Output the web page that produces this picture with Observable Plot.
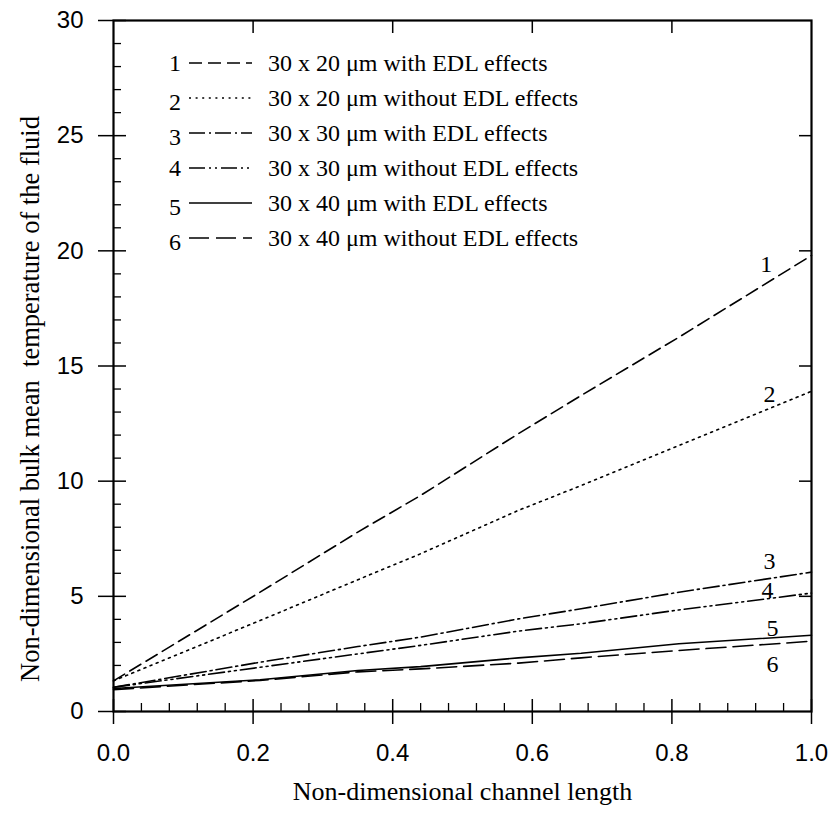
<!DOCTYPE html>
<html><head><meta charset="utf-8">
<script src="https://cdn.jsdelivr.net/npm/d3@7"></script>
<script src="https://cdn.jsdelivr.net/npm/@observablehq/plot@0.6"></script>
<style>
html,body{margin:0;padding:0;background:#fff;}
#wrap{position:relative;width:833px;height:816px;}
#wrap svg{display:block;}
#legend{position:absolute;left:0;top:0;}
</style></head><body>
<div id="wrap"></div>
<script>
// ---- data ----
const xPos    = [0, 0.21, 0.35, 0.44, 0.58, 0.67, 0.81, 1.0];
const series1 = [1.33, 5.18, 7.79, 9.38, 12.06, 13.72, 16.25, 19.8];
const series2 = [1.33, 3.95, 5.72, 6.85, 8.73, 9.81, 11.55, 13.9];
const series3 = [1.05, 2.14, 2.82, 3.23, 4.02, 4.46, 5.18, 6.05];
const series4 = [1.05, 1.92, 2.50, 2.87, 3.49, 3.81, 4.41, 5.14];
const series5 = [1.00, 1.38, 1.78, 1.95, 2.33, 2.53, 2.94, 3.31];
const series6 = [0.95, 1.35, 1.72, 1.85, 2.10, 2.33, 2.65, 3.05];
const seriesNames = [
  "30 x 20 \u03bcm with EDL effects",
  "30 x 20 \u03bcm without EDL effects",
  "30 x 30 \u03bcm with EDL effects",
  "30 x 30 \u03bcm without EDL effects",
  "30 x 40 \u03bcm with EDL effects",
  "30 x 40 \u03bcm without EDL effects"
];
const curveLabels = ["1", "2", "3", "4", "5", "6"];
const labelX = [0.935, 0.94, 0.94, 0.937, 0.944, 0.944];
const labelY = [19.4, 13.75, 6.5, 5.25, 3.6, 2.05];
const yMajor = [0, 5, 10, 15, 20, 25, 30];
const yMinor = [1,2,3,4,6,7,8,9,11,12,13,14,16,17,18,19,21,22,23,24,26,27,28,29];
const xMajor = [0, 0.2, 0.4, 0.6, 0.8, 1.0];
const xMinor = [0.04,0.08,0.12,0.16,0.24,0.28,0.32,0.36,0.44,0.48,0.52,0.56,0.64,0.68,0.72,0.76,0.84,0.88,0.92,0.96];
const xTitle = "Non-dimensional channel length";
const yTitle = "Non-dimensional bulk mean\u00a0\u00a0temperature of the fluid";

// ---- styling ----
const dashes = ["13,6", "2,4.6", "16,4,2,4", "16,4,2,4,2,4", null, "20,7"];
const serif = "'Liberation Serif', 'Times New Roman', serif";
const sans = "'Liberation Sans', Arial, sans-serif";

const allSeries = [series1, series2, series3, series4, series5, series6];
const lineMarks = allSeries.map((s, k) =>
  Plot.line(xPos.map((x, i) => ({x, y: s[i]})), {
    x: "x", y: "y", stroke: "black", strokeWidth: 1.6,
    strokeDasharray: dashes[k] ?? undefined
  })
);

const labelData = curveLabels.map((t, i) => ({t, x: labelX[i], y: labelY[i]}));

const chart = Plot.plot({
  width: 833, height: 816,
  marginLeft: 113, marginRight: 22, marginTop: 20, marginBottom: 105,
  x: {domain: [0, 1]},
  y: {domain: [0, 30]},
  style: {fontFamily: sans, fontSize: "24px", background: "white", color: "black"},
  marks: [
    ...lineMarks,
    Plot.text(labelData, {x: "x", y: "y", text: "t", fontFamily: serif, fontSize: 24, fill: "black"}),
    Plot.axisY(yMajor, {anchor: "left", tickSize: 15, tickPadding: 15, strokeWidth: 1.5, label: null, fontSize: 24}),
    Plot.axisY(yMajor, {anchor: "left", tickSize: -13, strokeWidth: 1.5, fill: "none"}),
    Plot.axisY(yMinor, {anchor: "left", tickSize: -8, strokeWidth: 1.3, fill: "none"}),
    Plot.axisY(yMajor.slice(1, -1), {anchor: "right", tickSize: -13, strokeWidth: 1.5, fill: "none"}),
    Plot.axisX(xMajor, {anchor: "bottom", tickSize: 13, tickPadding: 19, strokeWidth: 1.5, label: null, fontSize: 24, tickFormat: d3.format(".1f")}),
    Plot.axisX(xMajor, {anchor: "bottom", tickSize: -12, strokeWidth: 1.5, fill: "none"}),
    Plot.axisX(xMinor, {anchor: "bottom", tickSize: -8, strokeWidth: 1.3, fill: "none"}),
    Plot.axisX(xMajor.slice(1, -1), {anchor: "top", tickSize: -12, strokeWidth: 1.5, fill: "none"}),
    Plot.frame({stroke: "black", strokeWidth: 2.2}),
    Plot.text([xTitle], {text: d => d, frameAnchor: "bottom", dy: 88, fontFamily: serif, fontSize: 26, fill: "black"}),
    Plot.text([yTitle], {text: d => d, frameAnchor: "left", textAnchor: "middle", dx: -83, dy: 33, rotate: -90, fontFamily: serif, fontSize: 26.5, fill: "black"})
  ]
});
const wrap = document.getElementById("wrap");
wrap.appendChild(chart);

// ---- legend overlay ----
const leg = d3.select(wrap).append("svg").attr("id", "legend")
  .attr("width", 833).attr("height", 280);
seriesNames.forEach((name, i) => {
  const y = 63 + i * 35;
  leg.append("text").attr("x", 181).attr("y", y + (i === 0 || i === 3 ? 0 : 4))
    .attr("text-anchor", "end").attr("dominant-baseline", "central")
    .style("font-family", serif).style("font-size", "24px").text(curveLabels[i]);
  leg.append("line").attr("x1", 189).attr("x2", 252).attr("y1", y).attr("y2", y)
    .attr("stroke", "black").attr("stroke-width", 1.6)
    .attr("stroke-dasharray", dashes[i] ?? null);
  leg.append("text").attr("x", 268).attr("y", y)
    .attr("dominant-baseline", "central")
    .style("font-family", serif).style("font-size", "24px").text(name);
});
</script>
</body></html>
